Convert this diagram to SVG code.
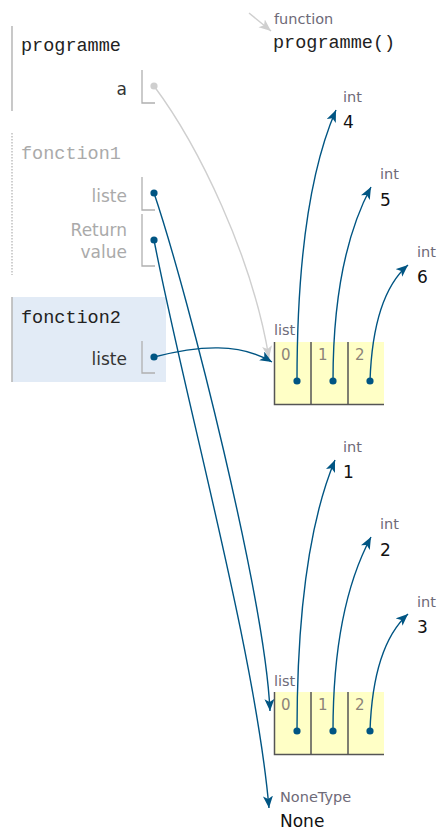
<svg xmlns="http://www.w3.org/2000/svg" width="440" height="834" viewBox="0 0 440 834">
<style>
.mono{font-family:"Liberation Mono","Courier New",monospace;font-size:18.5px;}
.sans{font-family:"DejaVu Sans",Verdana,sans-serif;}
.vname{font-size:17px;fill:#333;text-anchor:end;}
.vname.dim{fill:#aaa;}
.tlabel{font-size:14.5px;fill:#6e6a78;}
.val{font-size:17px;fill:#111;}
.idx{font-size:15px;fill:#8c8478;}
.brk{fill:none;stroke:#b0b0b0;stroke-width:1.3;}
.ref{fill:none;stroke:#005583;stroke-width:1.4;marker-end:url(#ab);}
.gref{fill:none;stroke:#cfcfcf;stroke-width:1.4;marker-end:url(#ag);}
.dot{fill:#005583;}
.cell{fill:#ffffc6;}
.cb{stroke:#555;stroke-width:1.5;fill:none;}
</style>
<defs>
<marker id="ab" markerUnits="userSpaceOnUse" markerWidth="13" markerHeight="11" refX="12" refY="5" orient="auto">
<path d="M0,0 L12,5 L0,10 L3,5 z" fill="#005583"/>
</marker>
<marker id="ag" markerUnits="userSpaceOnUse" markerWidth="13" markerHeight="11" refX="12" refY="5" orient="auto">
<path d="M0,0 L12,5 L0,10 L3,5 z" fill="#cfcfcf"/>
</marker>
</defs>
<rect width="440" height="834" fill="#fff"/>

<g id="frame-programme">
<line x1="12" y1="26" x2="12" y2="111" stroke="#bbb" stroke-width="1.6"/>
<text class="mono" x="21" y="51" fill="#222">programme</text>
<text class="sans vname" x="127" y="95">a</text>
<path class="brk" d="M142,70 V103 H155"/>
<circle cx="154" cy="86" r="3.6" fill="#cfcfcf"/>
</g>

<g id="frame-fonction1">
<line x1="12" y1="133" x2="12" y2="275" stroke="#bbb" stroke-width="1.4" stroke-dasharray="1.5,1.5"/>
<text class="mono" x="21" y="159" fill="#aaa">fonction1</text>
<text class="sans vname dim" x="127" y="202">liste</text>
<path class="brk" d="M142,177 V210 H155"/>
<text class="sans vname dim" x="127" y="236">Return</text>
<text class="sans vname dim" x="127" y="258">value</text>
<path class="brk" d="M142,214 V266 H155"/>
</g>

<g id="frame-fonction2">
<rect x="12" y="297" width="154" height="85" fill="#e2ebf6"/>
<line x1="12" y1="297" x2="12" y2="382" stroke="#b8b8b8" stroke-width="1.6"/>
<text class="mono" x="21" y="323" fill="#222">fonction2</text>
<text class="sans vname" x="127" y="365">liste</text>
<path class="brk" d="M142,341 V373 H155"/>
</g>

<g id="func-programme">
<text class="sans tlabel" x="274" y="24">function</text>
<text class="mono" x="273" y="48" fill="#222">programme()</text>
</g>

<g id="int4"><text class="sans tlabel" x="343" y="102">int</text><text class="sans val" x="343" y="128">4</text></g>
<g id="int5"><text class="sans tlabel" x="380" y="179">int</text><text class="sans val" x="380" y="206">5</text></g>
<g id="int6"><text class="sans tlabel" x="417" y="257">int</text><text class="sans val" x="417" y="283">6</text></g>

<g id="list1">
<text class="sans tlabel" x="274" y="335">list</text>
<rect class="cell" x="274" y="342" width="110" height="62"/>
<path class="cb" d="M274.5,342 V404.5 H384 M311,342 V404 M348,342 V404"/>
<text class="sans idx" x="281" y="360">0</text>
<text class="sans idx" x="318" y="360">1</text>
<text class="sans idx" x="355" y="360">2</text>
</g>

<g id="int1"><text class="sans tlabel" x="343" y="452">int</text><text class="sans val" x="343" y="478">1</text></g>
<g id="int2"><text class="sans tlabel" x="380" y="529">int</text><text class="sans val" x="380" y="556">2</text></g>
<g id="int3"><text class="sans tlabel" x="417" y="607">int</text><text class="sans val" x="417" y="633">3</text></g>

<g id="list2">
<text class="sans tlabel" x="274" y="686">list</text>
<rect class="cell" x="274" y="692" width="110" height="62"/>
<path class="cb" d="M274.5,692 V754.5 H384 M311,692 V754 M348,692 V754"/>
<text class="sans idx" x="281" y="710">0</text>
<text class="sans idx" x="318" y="710">1</text>
<text class="sans idx" x="355" y="710">2</text>
</g>

<g id="none">
<text class="sans tlabel" x="280" y="802">NoneType</text>
<text class="sans val" x="280" y="827">None</text>
</g>

<g id="connectors">
<path class="gref" d="M249,13 L271,31"/>
<path class="gref" d="M154,86 C198,145 252,255 269,358"/>
<path class="ref" d="M154,193 C190,300 265,600 270,711"/>
<path class="ref" d="M154,240 C185,400 255,650 269,808"/>
<path class="ref" d="M154,357 C200,345 240,343 272,362"/>
<path class="ref" d="M297,381 C297,250 312,165 336,110"/>
<path class="ref" d="M333,381 C333,290 348,230 371,187"/>
<path class="ref" d="M370,381 C372,322 385,285 408,265"/>
<path class="ref" d="M297,731 C297,600 312,515 335,460"/>
<path class="ref" d="M333,731 C333,640 348,580 371,537"/>
<path class="ref" d="M370,731 C372,672 385,635 408,614"/>
<circle class="dot" cx="154" cy="193" r="3.6"/>
<circle class="dot" cx="154" cy="240" r="3.6"/>
<circle class="dot" cx="154" cy="357" r="3.6"/>
<circle class="dot" cx="297" cy="381" r="3.6"/>
<circle class="dot" cx="333" cy="381" r="3.6"/>
<circle class="dot" cx="370" cy="381" r="3.6"/>
<circle class="dot" cx="297" cy="731" r="3.6"/>
<circle class="dot" cx="333" cy="731" r="3.6"/>
<circle class="dot" cx="370" cy="731" r="3.6"/>
</g>
</svg>
